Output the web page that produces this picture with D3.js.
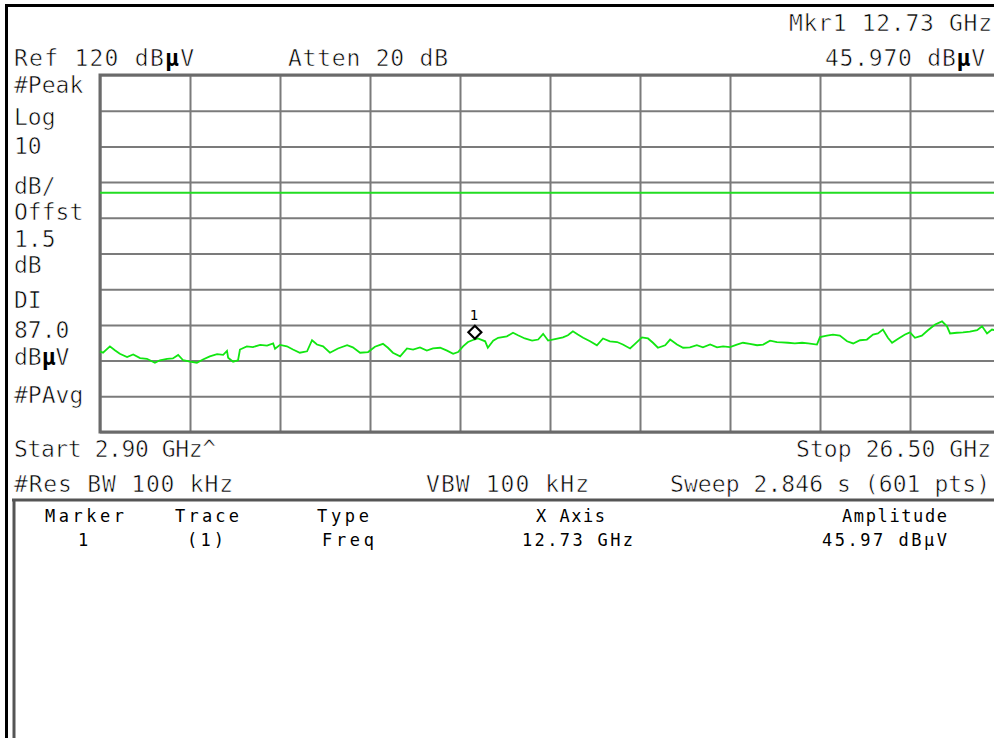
<!DOCTYPE html>
<html>
<head>
<meta charset="utf-8">
<script src="https://cdn.jsdelivr.net/npm/d3@7"></script>
<style>
html,body{margin:0;padding:0;background:#fff;overflow:hidden}
text{font-family:"DejaVu Sans Mono",monospace;fill:#000;stroke:#fff;stroke-width:0.6px}
</style>
</head>
<body>
<svg id="chart" width="994" height="738"></svg>
<script>
const startGHz = 2.90;
const stopGHz = 26.50;
const refLevel = 120;          // dBµV, top of graticule
const dbPerDiv = 10;
const displayLine = 87.0;      // dBµV
const markerFreq = 12.73;      // GHz
const markerAmp = 45.97;       // dBµV

const freqGHz = [2.90,2.98,3.16,3.29,3.42,3.61,3.77,3.95,4.13,4.34,
  4.47,4.66,4.81,4.95,5.08,5.26,5.44,5.60,5.78,5.97,
  6.13,6.23,6.26,6.39,6.52,6.57,6.75,6.91,7.10,7.28,
  7.44,7.49,7.62,7.80,7.96,8.14,8.33,8.46,8.59,8.75,
  8.93,9.14,9.38,9.53,9.72,9.93,10.11,10.32,10.45,10.58,
  10.77,10.95,11.11,11.29,11.47,11.63,11.82,12.00,12.16,12.29,
  12.42,12.55,12.73,12.81,13.00,13.07,13.21,13.34,13.57,13.73,
  13.86,14.04,14.23,14.39,14.52,14.65,14.83,15.04,15.17,15.30,
  15.43,15.57,15.75,15.93,16.09,16.27,16.46,16.61,16.80,16.93,
  17.11,17.27,17.40,17.53,17.72,17.85,18.03,18.19,18.37,18.55,
  18.71,18.90,19.08,19.24,19.42,19.60,19.76,19.94,20.13,20.29,
  20.47,20.65,20.78,20.94,21.12,21.31,21.47,21.70,21.78,21.96,
  22.12,22.30,22.49,22.65,22.83,23.01,23.17,23.30,23.43,23.56,
  23.67,23.83,24.01,24.14,24.27,24.45,24.61,24.80,24.98,25.11,
  25.19,25.37,25.53,25.71,25.90,26.03,26.16,26.29,26.50];

const ampDbuV = [42.6,42.2,44.0,42.9,41.9,41.0,41.7,40.7,40.5,39.4,
  40.1,40.5,40.6,41.6,40.1,39.7,39.4,40.3,41.2,41.8,
  41.6,42.7,40.8,39.7,40.1,43.1,44.0,43.8,44.4,44.2,
  44.8,43.3,44.4,44.0,43.1,42.2,42.6,45.7,44.5,44.0,
  42.2,43.4,44.3,43.7,42.2,42.4,43.9,44.7,43.6,42.2,
  41.2,43.4,43.1,43.7,42.8,43.4,43.6,42.8,41.9,42.4,
  44.0,45.2,45.97,46.2,45.4,43.6,45.6,46.4,46.8,47.8,
  47.1,46.2,45.6,45.9,47.5,45.6,46.0,46.5,47.1,48.2,
  47.3,46.4,45.4,44.3,46.2,45.4,45.2,44.5,43.4,44.7,
  46.5,46.2,45.0,43.6,44.3,45.9,44.5,43.6,43.7,44.3,
  43.7,44.5,43.7,44.0,43.8,44.5,45.0,44.7,44.3,44.5,
  45.6,45.2,45.1,45.0,44.8,45.0,44.8,44.5,46.6,47.0,
  47.3,47.0,45.4,44.8,45.7,45.9,47.3,47.6,48.7,46.4,
  45.0,46.1,47.3,47.9,46.4,47.0,48.5,50.1,51.0,49.6,
  47.6,47.8,47.9,48.1,48.5,49.6,47.6,48.7,48.2];

const leftLabels = ["#Peak","Log","10","dB/","Offst","1.5","dB","DI","87.0","dBµV","#PAvg"];
const headerLabels = ["Ref 120 dBµV","Atten 20 dB","Mkr1  12.73 GHz","45.970 dBµV"];
const footerLabels = ["Start 2.90 GHz^","Stop 26.50 GHz","#Res BW 100 kHz","VBW 100 kHz","Sweep 2.846 s (601 pts)"];
const tableHeads = ["Marker","Trace","Type","X Axis","Amplitude"];
const tableRow = ["1","(1)","Freq","12.73 GHz","45.97 dBµV"];

// ---- layout ----
const svg = d3.select("#chart");
const plot = {left:100, right:1000, top:75, bottom:432};
const x = d3.scaleLinear().domain([startGHz, stopGHz]).range([plot.left, plot.right]);
const y = d3.scaleLinear().domain([refLevel - 10*dbPerDiv, refLevel]).range([plot.bottom, plot.top]);

// outer frame
svg.append("line").attr("x1",5).attr("x2",994).attr("y1",5.5).attr("y2",5.5)
  .attr("stroke","#000").attr("stroke-width",3);
svg.append("line").attr("x1",6.5).attr("x2",6.5).attr("y1",4).attr("y2",738)
  .attr("stroke","#000").attr("stroke-width",3);

// graticule via axes
const gridColor = "#7b7b7b";
const xDivs = d3.range(0, 11).map(i => startGHz + i*(stopGHz-startGHz)/10);
const yDivs = d3.range(0, 11).map(i => refLevel - i*dbPerDiv);
const gx = svg.append("g").attr("transform",`translate(0,${plot.bottom})`)
  .call(d3.axisBottom(x).tickValues(xDivs).tickSize(-(plot.bottom-plot.top)).tickFormat(""));
const gy = svg.append("g").attr("transform",`translate(${plot.left},0)`)
  .call(d3.axisLeft(y).tickValues(yDivs).tickSize(-(plot.right-plot.left)).tickFormat(""));
[gx, gy].forEach(g => {
  g.select(".domain").remove();
  g.selectAll(".tick line").attr("stroke",gridColor).attr("stroke-width",2);
});
// heavier outline
svg.append("rect").attr("x",plot.left).attr("y",plot.top)
  .attr("width",plot.right-plot.left).attr("height",plot.bottom-plot.top)
  .attr("fill","none").attr("stroke","#6a6a6a").attr("stroke-width",3);

// display line
svg.append("line").attr("x1",x(startGHz)).attr("x2",x(stopGHz))
  .attr("y1",y(displayLine)).attr("y2",y(displayLine))
  .attr("stroke","#22dd22").attr("stroke-width",2);

// trace
const pts = d3.zip(freqGHz, ampDbuV);
svg.append("path").datum(pts)
  .attr("d", d3.line().x(d => x(d[0])).y(d => y(d[1])))
  .attr("fill","none").attr("stroke","#11e611").attr("stroke-width",1.8)
  .attr("stroke-linejoin","miter");

// marker
const mx = x(markerFreq), my = y(markerAmp) - 7;
svg.append("path")
  .attr("d", `M${mx},${my-6.5}L${mx+6.5},${my}L${mx},${my+6.5}L${mx-6.5},${my}Z`)
  .attr("fill","#fff").attr("stroke","#000").attr("stroke-width",2.2);
svg.append("text").attr("x",mx-1).attr("y",my-12).attr("text-anchor","middle")
  .style("font-size","14px").style("stroke","none").text("1");

// text helper
function label(str, x0, base, width, size) {
  const t = svg.append("text").attr("x",x0).attr("y",base).style("font-size",size+"px");
  const parts = str.split("µ");
  parts.forEach((p,i) => {
    if (p) t.append("tspan").text(p);
    if (i < parts.length-1) t.append("tspan").style("font-weight","bold").style("stroke","none").text("µ");
  });
  if (width) t.attr("textLength",width).attr("lengthAdjust","spacing");
  return t;
}
const big = 23;
// header
label(headerLabels[0], 14, 66, 180, big);
label(headerLabels[1], 288, 66, 160, big);
label(headerLabels[2], 789, 31, 203, big);
label(headerLabels[3], 825, 66, 160, big);

// left annotations
const leftBase = [93,125,154,194,220,247,273,308,338,365,403];
leftLabels.forEach((s,i) => label(s, 14, leftBase[i], null, big));

// footer
label(footerLabels[0], 14, 457, 202, big);
label(footerLabels[1], 796, 457, 195, big);
label(footerLabels[2], 14, 492, 219, big);
label(footerLabels[3], 426, 492, 163, big);
label(footerLabels[4], 670, 492, 320, big);

// table box
svg.append("line").attr("x1",12).attr("x2",994).attr("y1",500).attr("y2",500)
  .attr("stroke","#555").attr("stroke-width",3);
svg.append("line").attr("x1",14).attr("x2",14).attr("y1",499).attr("y2",738)
  .attr("stroke","#555").attr("stroke-width",3);

const small = 17;
const headPos = [[45,79],[175,64],[317,52],[536,69],[842,105]];
const rowPos  = [[78,11],[187,37],[322,52],[522,111],[822,125]];
tableHeads.forEach((s,i) => label(s, headPos[i][0], 522, headPos[i][1], small)
  .style("stroke","none").selectAll("tspan").style("font-weight",null));
tableRow.forEach((s,i) => label(s, rowPos[i][0], 546, rowPos[i][1], small)
  .style("stroke","none").selectAll("tspan").style("font-weight",null));
</script>
</body>
</html>
